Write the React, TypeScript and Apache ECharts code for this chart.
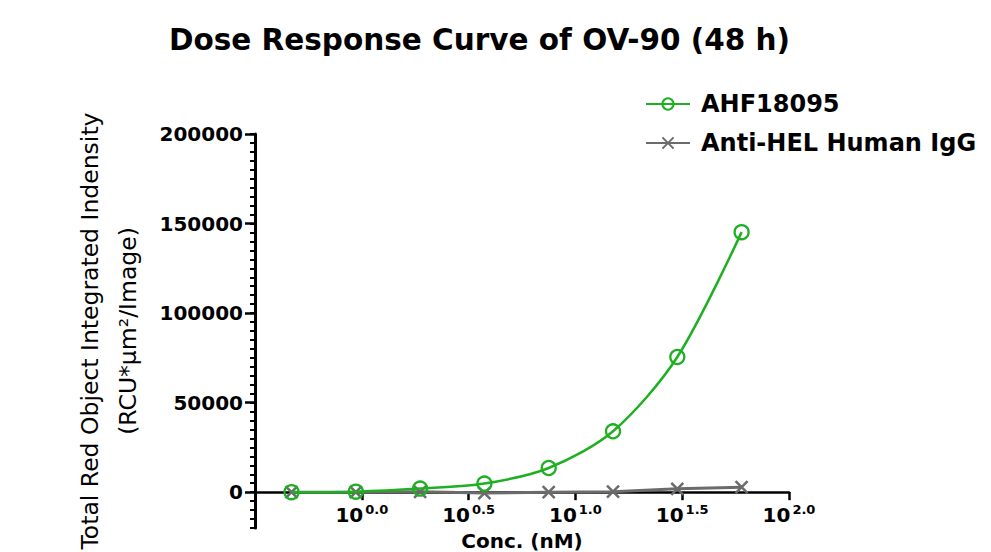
import React, { useEffect, useRef } from 'react';
import * as echarts from 'echarts';

// Concentrations (nM), 2-fold dilution series
const concentrations = [0.46875, 0.9375, 1.875, 3.75, 7.5, 15, 30, 60];
// Total Red Object Integrated Intensity
const ahf18095 = [0, 300, 2000, 4800, 13500, 34000, 75500, 145200];
const antiHelIgG = [0, 0, 200, -500, 0, 300, 1900, 2800];
// Axis ticks
const xTickExponents = [0, 0.5, 1, 1.5, 2];
const yMajorTicks = [0, 50000, 100000, 150000, 200000];
const yMinorTicks = [
  -20000, -15000, -10000, -5000, 0, 5000, 10000, 15000, 20000, 25000, 30000, 35000, 40000, 45000,
  50000, 55000, 60000, 65000, 70000, 75000, 80000, 85000, 90000, 95000, 100000, 105000, 110000,
  115000, 120000, 125000, 130000, 135000, 140000, 145000, 150000, 155000, 160000, 165000, 170000,
  175000, 180000, 185000, 190000, 195000, 200000,
];
const seriesNames = ['AHF18095', 'Anti-HEL Human IgG'];
const yMin = -20000;
const yMax = 200000;

export default function App() {
  const ref = useRef<HTMLDivElement>(null);
  useEffect(() => {
    const chart = echarts.init(ref.current!, null, { renderer: 'svg' });
    const font = 'DejaVu Sans';
    const green = '#1faf22';
    const gray = '#6b6b6b';
    const xSymbol = 'path://M0,0L10,10M10,0L0,10';
    const gridTop = 134;
    const gridBottom = 24;
    const plotH = 552 - gridTop - gridBottom;
    // lift the x axis from the grid's bottom edge up to y = 0
    const zeroOffset = -(plotH * (0 - yMin)) / (yMax - yMin);
    chart.setOption({
      animation: false,
      backgroundColor: '#ffffff',
      title: {
        text: 'Dose Response Curve of OV-90 (48 h)',
        left: 164,
        top: 20,
        textStyle: { fontFamily: font, fontWeight: 'bold', fontSize: 29.5, color: '#000' },
      },
      legend: {
        data: seriesNames,
        orient: 'vertical',
        left: 640,
        top: 87,
        itemWidth: 44,
        itemHeight: 14,
        itemGap: 15,
        textStyle: {
          fontFamily: font,
          fontWeight: 'bold',
          fontSize: 24,
          lineHeight: 24,
          color: '#000',
          padding: [0, 0, 0, 6],
        },
      },
      grid: { left: 255, right: 202, top: gridTop, bottom: gridBottom, outerBoundsMode: 'none', containLabel: false },
      xAxis: {
        type: 'value',
        min: -0.5,
        max: 2,
        interval: 0.5,
        position: 'bottom',
        offset: zeroOffset,
        splitLine: { show: false },
        axisLine: { onZero: false, lineStyle: { color: '#000', width: 2.5 } },
        axisTick: { length: 8, lineStyle: { color: '#000', width: 2.5 } },
        axisLabel: {
          margin: 11,
          formatter: (v: number) =>
            xTickExponents.some((e) => Math.abs(e - v) < 1e-6) ? `{b|10}{s|${v.toFixed(1)}}` : '',
          rich: {
            b: { fontFamily: font, fontWeight: 'bold', fontSize: 20, lineHeight: 22, color: '#000', verticalAlign: 'bottom' },
            s: { fontFamily: font, fontWeight: 'bold', fontSize: 13, lineHeight: 22, color: '#000', verticalAlign: 'top', padding: [0, 0, 8, 2] },
          },
        },
        name: 'Conc. (nM)',
        nameLocation: 'middle',
        nameGap: 36,
        nameTextStyle: { fontFamily: font, fontWeight: 'bold', fontSize: 20, lineHeight: 22, color: '#000' },
      },
      yAxis: [
        {
          type: 'value',
          min: yMin,
          max: yMax,
          interval: 5000,
          position: 'left',
          splitLine: { show: false },
          axisLine: { show: true, onZero: false, lineStyle: { color: '#000', width: 3 } },
          axisTick: { show: true, length: 5, customValues: yMinorTicks, lineStyle: { color: '#000', width: 2 } },
          axisLabel: { show: false },
          name: 'Total Red Object Integrated Indensity\n(RCU*µm²/Image)',
          nameLocation: 'middle',
          nameGap: 108,
          nameTextStyle: { fontFamily: font, fontSize: 23.5, lineHeight: 38, color: '#000' },
        },
        {
          type: 'value',
          min: yMin,
          max: yMax,
          position: 'left',
          splitLine: { show: false },
          axisLine: { show: false, onZero: false },
          axisTick: { show: true, length: 10, customValues: yMajorTicks, lineStyle: { color: '#000', width: 2.5 } },
          axisLabel: {
            show: true,
            customValues: yMajorTicks,
            margin: 12,
            formatter: (v: number) => String(v),
            fontFamily: font,
            fontWeight: 'bold',
            fontSize: 20,
            color: '#000',
          },
        },
      ],
      series: [
        {
          name: seriesNames[0],
          type: 'line',
          yAxisIndex: 0,
          z: 3,
          data: concentrations.map((c, i) => [Math.log10(c), ahf18095[i]]),
          smooth: 0.3,
          symbol: 'circle',
          symbolSize: 14,
          itemStyle: { color: 'rgba(255,255,255,0)', borderColor: green, borderWidth: 2.3 },
          lineStyle: { color: green, width: 2.5 },
        },
        {
          name: seriesNames[1],
          type: 'line',
          yAxisIndex: 0,
          z: 2,
          data: concentrations.map((c, i) => [Math.log10(c), antiHelIgG[i]]),
          symbol: xSymbol,
          symbolSize: 12,
          itemStyle: { color: gray, borderColor: gray, borderWidth: 2.5 },
          lineStyle: { color: gray, width: 3 },
        },
      ],
    });
    return () => chart.dispose();
  }, []);
  return <div ref={ref} style={{ position: 'fixed', left: 0, top: 0, width: 991, height: 552 }} />;
}
